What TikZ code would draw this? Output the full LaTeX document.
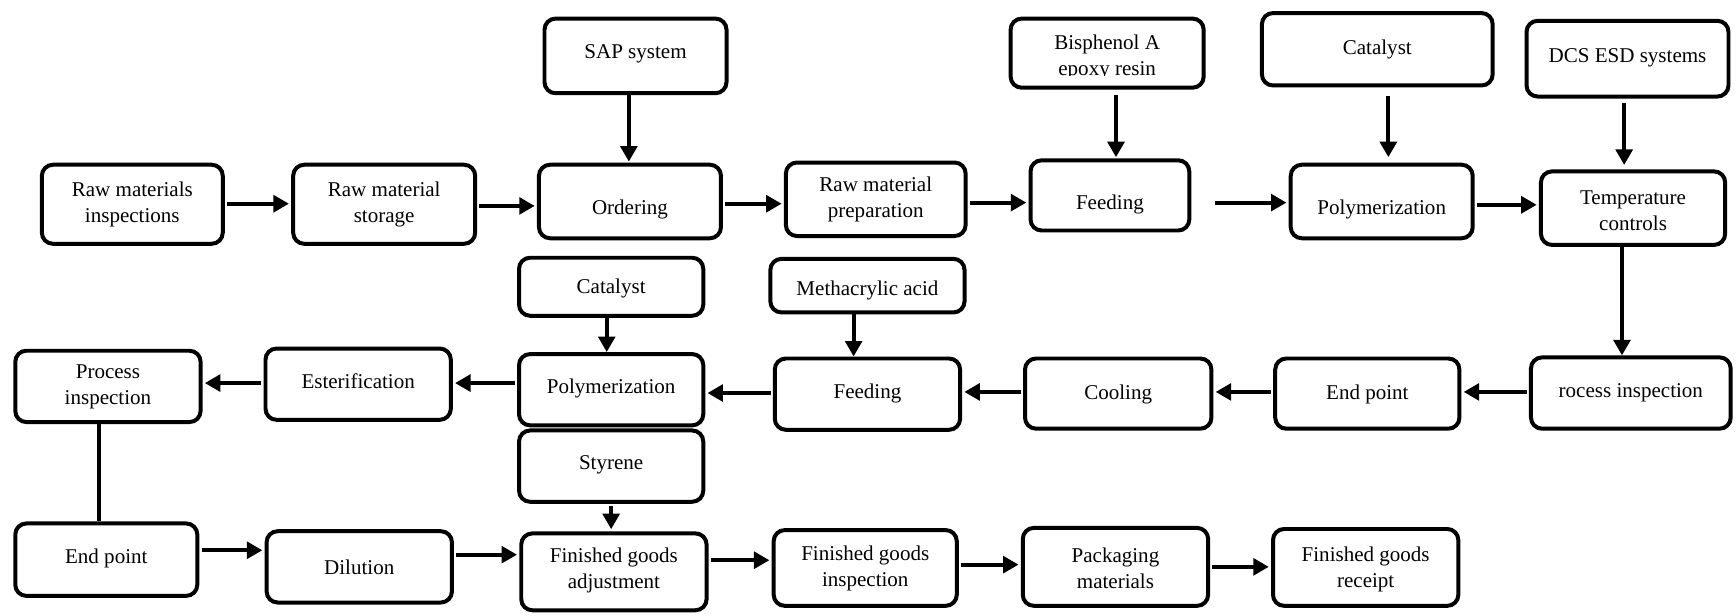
\documentclass[tikz,border=0pt]{standalone}
\usepackage{fontspec}
\setmainfont{Liberation Serif}
\usetikzlibrary{arrows.meta}

\tikzset{
  box/.style={draw, line width=3.6pt, rounded corners=10pt, inner sep=0pt, fill=white},
  lbl/.style={inner sep=0pt, align=center, font=\fontsize{19}{23.5}\selectfont},
  arr/.style={line width=3.6pt, -{Triangle[length=14pt,width=15pt]}, shorten >=2pt, shorten <=2pt},
  link/.style={line width=3.6pt},
}

% process box: name, centre x, centre y, width, height, text lift, text
\newcommand\procbox[7]{%
  \node[box, minimum width=\dimexpr#4pt-3.6pt\relax, minimum height=\dimexpr#5pt-3.6pt\relax] (#1) at (#2,#3) {};
  \node[lbl] (#1-t) at ([yshift=#6pt-2pt]#1.center) {#7};
}

\begin{document}
\begin{tikzpicture}[x=1pt,y=-1pt]
\useasboundingbox (0,0) rectangle (1568,556);
\fill[white] (0,0) rectangle (1568,556);

% inputs along the top
\procbox{sap}{574}{50.5}{168}{71}{3.5}{SAP system}
\node[box, minimum width=174.4pt, minimum height=62.4pt] (bis) at (1000,48) {};
\begin{scope}
  \clip (911,15) rectangle (1089,68.5);
  \node[lbl] (bis-t) at (1000,52) {Bisphenol A\\epoxy resin};
\end{scope}
\procbox{catA}{1244}{44.5}{212}{69}{1.5}{Catalyst}
\procbox{dcs}{1470}{53}{186}{72}{3}{DCS ESD systems}

% first process line
\procbox{rmi}{119.5}{184.5}{167}{75}{1.5}{Raw materials\\inspections}
\procbox{rms}{347}{184.5}{168}{75}{1.5}{Raw material\\storage}
\procbox{ord}{569}{182}{168}{70}{-5}{Ordering}
\procbox{prep}{791}{180}{166}{70}{2}{Raw material\\preparation}
\procbox{feedA}{1002.5}{176.5}{147}{67}{-6.5}{Feeding}
\procbox{polyA}{1248}{182}{168}{70}{-5}{Polymerization}
\procbox{temp}{1475}{188}{170}{70}{0}{Temperature\\controls}

% second process line
\procbox{catB}{552}{259}{170}{56}{0}{Catalyst}
\procbox{meth}{783.5}{258}{179}{52}{-2}{Methacrylic acid}
\procbox{pin}{97.5}{349}{171}{68}{1.5}{Process\\inspection}
\procbox{est}{323.5}{347}{171}{68}{5}{Esterification}
\procbox{polyB}{552}{352}{170}{68}{3}{Polymerization}
\procbox{feedB}{783.5}{356}{171}{68}{3}{Feeding}
\procbox{cool}{1010}{355.5}{172}{67}{1.5}{Cooling}
\procbox{endA}{1235}{355.5}{170}{67}{1.5}{End point}
\procbox{rin}{1473}{355}{184}{68}{2}{rocess inspection}

% third process line
\procbox{sty}{552}{421}{170}{68}{3}{Styrene}
\procbox{endB}{96}{505.5}{168}{69}{3.5}{End point}
\procbox{dil}{324.5}{512}{171}{68}{2}{Dilution}
\procbox{fga}{554.5}{516.5}{171}{73}{3.5}{Finished goods\\adjustment}
\procbox{fgi}{781.5}{513}{169}{72}{2}{Finished goods\\inspection}
\procbox{pack}{1007.5}{512}{171}{74}{1}{Packaging\\materials}
\procbox{rec}{1233.5}{512.5}{171}{73}{0.5}{Finished goods\\receipt}

% first line connectors
\draw[arr] (rmi.east |- 0,184) -- (rms.west |- 0,184);
\draw[arr] (rms.east |- 0,186) -- (ord.west |- 0,186);
\draw[arr] (ord.east |- 0,184) -- (prep.west |- 0,184);
\draw[arr] (prep.east |- 0,183) -- (feedA.west |- 0,183);
\coordinate (gapA) at (1097,183);
\draw[arr, shorten <=0pt] (gapA) -- (polyA.west |- gapA);
\draw[arr] (polyA.east |- 0,185) -- (temp.west |- 0,185);
\draw[arr, shorten <=0pt, shorten >=1pt] (568,0 |- sap.south) -- (568,0 |- ord.north);
\draw[arr, shorten <=5pt, shorten >=1pt] (1008,0 |- bis.south) -- (1008,0 |- feedA.north);
\draw[arr, shorten <=8pt, shorten >=5pt] (1254,0 |- catA.south) -- (1254,0 |- polyA.north);
\draw[arr, shorten <=4pt, shorten >=4pt] (1467,0 |- dcs.south) -- (1467,0 |- temp.north);
\draw[arr, shorten <=0pt, shorten >=0pt] (1465,0 |- temp.south) -- (1465,0 |- rin.north);

% second line connectors
\draw[arr] (rin.west |- 0,354) -- (endA.east |- 0,354);
\draw[arr] (endA.west |- 0,354) -- (cool.east |- 0,354);
\draw[arr] (cool.west |- 0,354) -- (feedB.east |- 0,354);
\draw[arr] (feedB.west |- 0,355) -- (polyB.east |- 0,355);
\draw[arr] (polyB.west |- 0,346) -- (est.east |- 0,346);
\draw[arr] (est.west |- 0,346) -- (pin.east |- 0,346);
\draw[arr, shorten <=0pt, shorten >=0pt] (548,0 |- catB.south) -- (548,0 |- polyB.north);
\draw[arr, shorten <=0pt, shorten >=0pt] (771,0 |- meth.south) -- (771,0 |- feedB.north);

% third line connectors
\draw[link] (89,0 |- pin.south) -- (89,0 |- endB.north);
\draw[arr] (552,0 |- sty.south) -- (552,0 |- fga.north);
\draw[arr] (endB.east |- 0,497) -- (dil.west |- 0,497);
\draw[arr] (dil.east |- 0,501) -- (fga.west |- 0,501);
\draw[arr] (fga.east |- 0,506) -- (fgi.west |- 0,506);
\draw[arr] (fgi.east |- 0,510) -- (pack.west |- 0,510);
\draw[arr] (pack.east |- 0,512) -- (rec.west |- 0,512);
\end{tikzpicture}
\end{document}
